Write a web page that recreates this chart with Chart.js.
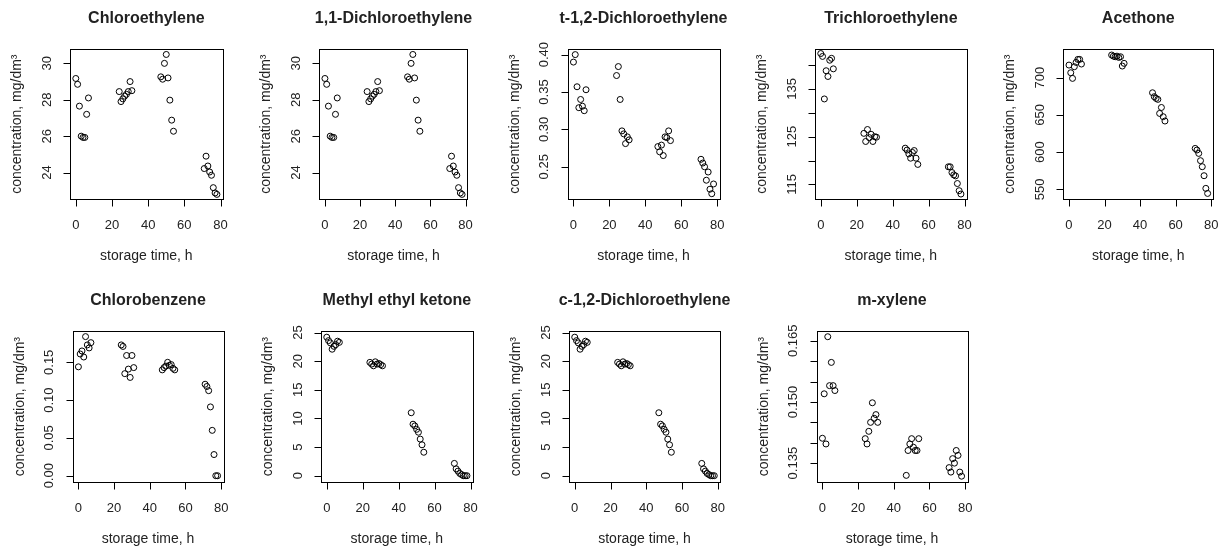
<!DOCTYPE html>
<html>
<head>
<meta charset="utf-8">
<script src="https://cdn.jsdelivr.net/npm/chart.js@4.4.1/dist/chart.umd.min.js"></script>
<style>
  html, body { margin: 0; padding: 0; background: #fff; }
  #wrap { position: relative; width: 1229px; height: 548px; overflow: hidden; }
  #wrap canvas { position: absolute; }
</style>
</head>
<body>
<div id="wrap"></div>
<script>
// storage time (h) - same 32 sampling times in every panel
const hours = [0, 1, 2, 3, 4, 5, 6, 7,
  24, 25, 26, 27, 28, 29, 30, 31,
  47, 48, 49, 50, 51, 52, 53, 54,
  71, 72, 73, 74, 75, 76, 77, 78];

const titles = ["Chloroethylene", "1,1-Dichloroethylene", "t-1,2-Dichloroethylene",
  "Trichloroethylene", "Acethone", "Chlorobenzene", "Methyl ethyl ketone",
  "c-1,2-Dichloroethylene", "m-xylene"];

// concentrations, mg/dm3
const chloroethylene = [29.17, 28.85, 27.65, 26.0, 25.93, 25.93, 27.2, 28.1,
  28.45, 27.9, 28.05, 28.2, 28.3, 28.45, 29.0, 28.5,
  29.26, 29.13, 30.0, 30.49, 29.2, 27.98, 26.88, 26.27,
  24.22, 24.9, 24.36, 24.03, 23.85, 23.17, 22.88, 22.8];
const dichloro11 = [29.17, 28.85, 27.65, 26.0, 25.93, 25.93, 27.2, 28.1,
  28.45, 27.9, 28.05, 28.2, 28.3, 28.45, 29.0, 28.5,
  29.26, 29.13, 30.0, 30.49, 29.2, 27.98, 26.88, 26.27,
  24.22, 24.9, 24.36, 24.03, 23.85, 23.17, 22.88, 22.8];
const dichloroT12 = [0.390, 0.400, 0.357, 0.329, 0.340, 0.331, 0.325, 0.353,
  0.372, 0.384, 0.340, 0.298, 0.294, 0.281, 0.290, 0.286,
  0.277, 0.270, 0.279, 0.265, 0.290, 0.289, 0.298, 0.285,
  0.260, 0.255, 0.250, 0.232, 0.243, 0.220, 0.214, 0.227];
const trichloro = [142.4, 141.8, 132.9, 138.8, 137.6, 141.0, 141.4, 139.2,
  125.7, 124.0, 126.5, 124.8, 125.5, 124.0, 125.0, 124.9,
  122.6, 122.2, 121.4, 120.5, 121.7, 122.1, 120.5, 119.2,
  118.7, 118.7, 117.5, 117.0, 116.8, 115.2, 113.7, 113.0];
const acethone = [717, 706.7, 699.1, 714.8, 720.6, 724.6, 724.6, 718.4,
  730.5, 729, 728.2, 729, 727.3, 728.2, 715.7, 719.3,
  679.8, 674.5, 672.2, 670.9, 652, 660, 647.6, 641.8,
  605, 602.8, 598.3, 588.5, 580.4, 568.3, 551.3, 544.5];
const chlorobenzene = [0.144, 0.161, 0.165, 0.157, 0.184, 0.173, 0.169, 0.176,
  0.173, 0.171, 0.135, 0.159, 0.141, 0.130, 0.159, 0.143,
  0.140, 0.143, 0.145, 0.150, 0.146, 0.147, 0.142, 0.140,
  0.121, 0.118, 0.1125, 0.091, 0.060, 0.028, 0.000, 0.000];
const mek = [24.2, 23.6, 23.2, 22.1, 22.6, 22.9, 23.5, 23.3,
  19.8, 19.5, 19.2, 19.9, 19.5, 19.6, 19.4, 19.2,
  11.0, 9.0, 8.7, 8.1, 7.6, 6.4, 5.4, 4.1,
  2.15, 1.2, 0.8, 0.4, 0.2, 0.0, 0.0, 0.0];
const dichloroC12 = [24.2, 23.6, 23.2, 22.1, 22.6, 22.9, 23.5, 23.3,
  19.8, 19.5, 19.2, 19.9, 19.5, 19.6, 19.4, 19.2,
  11.0, 9.0, 8.7, 8.1, 7.6, 6.4, 5.4, 4.1,
  2.15, 1.2, 0.8, 0.4, 0.2, 0.0, 0.0, 0.0];
const mXylene = [0.1411, 0.152, 0.1397, 0.166, 0.154, 0.1597, 0.154, 0.1528,
  0.141, 0.1397, 0.1428, 0.145, 0.1498, 0.146, 0.1469, 0.145,
  0.132, 0.1381, 0.1397, 0.141, 0.1389, 0.1381, 0.1381, 0.141,
  0.1339, 0.1328, 0.1361, 0.135, 0.1381, 0.1369, 0.1328, 0.1318];

const series = [chloroethylene, dichloro11, dichloroT12, trichloro, acethone,
  chlorobenzene, mek, dichloroC12, mXylene];

// axis ticks
const xTicks = [0, 20, 40, 60, 80];
const yTicks = [
  [24, 26, 28, 30],
  [24, 26, 28, 30],
  [0.25, 0.30, 0.35, 0.40],
  [115, 120, 125, 130, 135, 140],
  [550, 600, 650, 700],
  [0.00, 0.05, 0.10, 0.15],
  [0, 5, 10, 15, 20, 25],
  [0, 5, 10, 15, 20, 25],
  [0.135, 0.140, 0.145, 0.150, 0.155, 0.160, 0.165]
];
// R drops labels that would overlap - empty string = tick only
const yTickLabels = [
  ["24", "26", "28", "30"],
  ["24", "26", "28", "30"],
  ["0.25", "0.30", "0.35", "0.40"],
  ["115", "", "125", "", "135", ""],
  ["550", "600", "650", "700"],
  ["0.00", "0.05", "0.10", "0.15"],
  ["0", "5", "10", "15", "20", "25"],
  ["0", "5", "10", "15", "20", "25"],
  ["0.135", "", "", "0.150", "", "", "0.165"]
];
const yRanges = [[22.53, 30.79], [22.53, 30.79], [0.2065, 0.4075], [111.9, 143.35],
  [536.6, 738.6], [-0.0087, 0.1914], [-1.15, 25.28], [-1.15, 25.28], [0.1303, 0.1674]];
const xRange = [-3.2, 81.2];

// layout: canvas cell [left, top, width, height] and plot box [left, top, right, bottom] in page px
const cells = [[0, 0, 245, 274], [245, 0, 245, 274], [490, 0, 245, 274], [735, 0, 245, 274],
  [980, 0, 249, 274], [0, 274, 245, 274], [245, 274, 245, 274], [490, 274, 245, 274],
  [735, 274, 245, 274]];
const boxes = [[70, 49, 222.7, 199.3], [319.3, 49, 467.7, 199.3], [567.7, 49, 719.3, 199.3],
  [815, 49, 966.7, 199.3], [1063.3, 49, 1213.3, 199.3], [72.7, 331, 223.3, 482.3],
  [321, 331, 472.7, 482.3], [569, 331, 720, 482.3], [816.7, 331, 967.3, 482.3]];

const FONT = '"Liberation Sans", Arial, sans-serif';
const INK = "#222";

// base-R style frame, axes and labels
const rAxes = {
  id: "rAxes",
  afterDraw(chart, args, opts) {
    const { ctx, chartArea: a, scales: { x, y } } = chart;
    const px = (v) => Math.round(v) + 0.5;
    ctx.save();
    ctx.strokeStyle = "#000";
    ctx.lineWidth = 1;
    ctx.strokeRect(px(a.left), px(a.top), Math.round(a.right - a.left), Math.round(a.bottom - a.top));

    ctx.fillStyle = INK;
    ctx.font = "13px " + FONT;

    // x axis
    const xb = px(a.bottom);
    ctx.beginPath();
    ctx.moveTo(px(x.getPixelForValue(xTicks[0])), xb);
    ctx.lineTo(px(x.getPixelForValue(xTicks[xTicks.length - 1])), xb);
    xTicks.forEach((t) => {
      const p = px(x.getPixelForValue(t));
      ctx.moveTo(p, xb);
      ctx.lineTo(p, xb + 7);
    });
    ctx.stroke();
    ctx.textAlign = "center";
    ctx.textBaseline = "middle";
    xTicks.forEach((t) => ctx.fillText(String(t), x.getPixelForValue(t), a.bottom + 26));

    // y axis
    const yl = px(a.left);
    ctx.beginPath();
    ctx.moveTo(yl, px(y.getPixelForValue(opts.ticks[0])));
    ctx.lineTo(yl, px(y.getPixelForValue(opts.ticks[opts.ticks.length - 1])));
    opts.ticks.forEach((t) => {
      const p = px(y.getPixelForValue(t));
      ctx.moveTo(yl, p);
      ctx.lineTo(yl - 7, p);
    });
    ctx.stroke();
    opts.ticks.forEach((t, i) => {
      if (!opts.labels[i]) return;
      ctx.save();
      ctx.translate(a.left - 23, y.getPixelForValue(t));
      ctx.rotate(-Math.PI / 2);
      ctx.fillText(opts.labels[i], 0, 0);
      ctx.restore();
    });

    // titles
    const cx = (a.left + a.right) / 2;
    ctx.font = "14px " + FONT;
    ctx.fillText("storage time, h", cx, a.bottom + 57);
    ctx.save();
    ctx.translate(a.left - 53, (a.top + a.bottom) / 2);
    ctx.rotate(-Math.PI / 2);
    ctx.fillText("concentration, mg/dm\u00B3", 0, 0);
    ctx.restore();

    ctx.font = "bold 16px " + FONT;
    ctx.fillText(opts.title, cx, a.top - 30);
    ctx.restore();
  }
};

const wrap = document.getElementById("wrap");

series.forEach((vals, i) => {
  const [cl, ct, cw, ch] = cells[i];
  const [bl, bt, br, bb] = boxes[i];
  const canvas = document.createElement("canvas");
  canvas.width = cw;
  canvas.height = ch;
  canvas.style.left = cl + "px";
  canvas.style.top = ct + "px";
  wrap.appendChild(canvas);

  new Chart(canvas, {
    type: "scatter",
    data: {
      datasets: [{
        data: hours.map((h, k) => ({ x: h, y: vals[k] })),
        pointStyle: "circle",
        pointRadius: 3,
        pointBorderWidth: 1,
        pointBorderColor: "#000",
        pointBackgroundColor: "rgba(0,0,0,0)"
      }]
    },
    options: {
      responsive: false,
      animation: false,
      events: [],
      layout: {
        padding: { left: bl - cl, top: bt - ct, right: cl + cw - br, bottom: ct + ch - bb }
      },
      scales: {
        x: { type: "linear", display: false, min: xRange[0], max: xRange[1] },
        y: { type: "linear", display: false, min: yRanges[i][0], max: yRanges[i][1] }
      },
      plugins: {
        legend: { display: false },
        tooltip: { enabled: false },
        rAxes: { title: titles[i], ticks: yTicks[i], labels: yTickLabels[i] }
      }
    },
    plugins: [rAxes]
  });
});
</script>
</body>
</html>
